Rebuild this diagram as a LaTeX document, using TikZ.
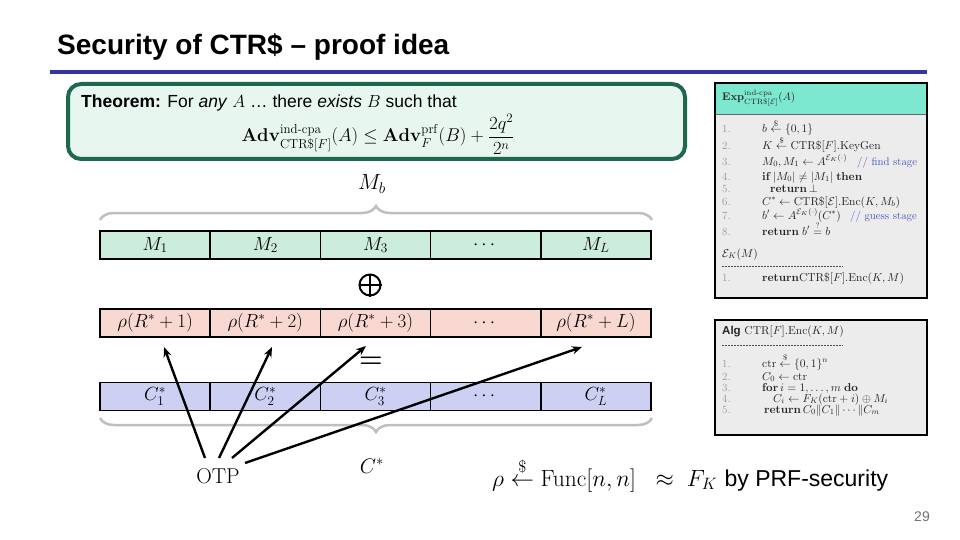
\RequirePackage{fix-cm}
\documentclass[tikz,border=0pt]{standalone}
\usepackage{amsmath,amssymb}
\usepackage[no-math]{fontspec}
\newfontfamily\arial{Liberation Sans}
\usetikzlibrary{arrows.meta,decorations.pathreplacing}
\newcommand\fs[1]{\fontsize{#1}{#1}\selectfont}
\definecolor{titleblue}{RGB}{53,53,160}
\definecolor{thmborder}{RGB}{31,104,80}
\definecolor{thmfill}{RGB}{232,246,240}
\definecolor{tealhead}{RGB}{125,232,208}
\definecolor{boxgray}{RGB}{236,236,236}
\definecolor{mfill}{RGB}{204,236,220}
\definecolor{rfill}{RGB}{250,216,210}
\definecolor{cfill}{RGB}{205,208,242}
\definecolor{bracegray}{RGB}{191,191,191}
\definecolor{numgray}{RGB}{150,150,150}
\definecolor{cmtblue}{RGB}{60,80,190}
\tikzset{
  cell/.style={draw, line width=1.6pt, minimum width=110.2pt, minimum height=28pt, font=\fs{19}},
  codeno/.style={anchor=base west, font=\fs{11}, text=numgray},
  code/.style={anchor=base west, font=\fs{11.5}, text=black!85},
  algcode/.style={anchor=base west, font=\fs{11.5}, text=black!85},
  cmt/.style={anchor=base west, font=\fs{11}, text=cmtblue},
  arr/.style={-{Stealth[length=10pt,width=8pt]}, line width=2.4pt},
  gbrace/.style={decorate, decoration={brace, amplitude=14pt}, draw=bracegray, line width=2.5pt}
}
\begin{document}
\begin{tikzpicture}[x=1pt,y=-1pt, every node/.style={inner sep=0pt}]
\useasboundingbox (0,0) rectangle (960,540);
% title
\node[anchor=base west, font=\arial\bfseries\fs{28}] (title) at (57,55) {Security of CTR\$ \textendash{} proof idea};
\draw[titleblue, line width=4pt] (50,72) -- (927,72);
% theorem box
\draw[thmborder, fill=thmfill, line width=4pt, rounded corners=13pt] (68,84) rectangle (685,159);
\node[anchor=base west, font=\arial\fs{17.5}] (thm) at (81,108) {\textbf{Theorem:} For \textit{any} $A$ \dots\ there \textit{exists} $B$ such that};
\node[anchor=base, font=\fs{18.5}] (thmf) at (378,142) {$\mathbf{Adv}^{\mathrm{ind\text{-}cpa}}_{\mathrm{CTR\$}[F]}(A) \le \mathbf{Adv}^{\mathrm{prf}}_{F}(B) + \dfrac{2q^2}{2^n}$};
% Exp box
\fill[boxgray] (715,83) rectangle (927,298);
\fill[tealhead] (715,83) rectangle (927,114);
\draw[line width=0.6pt, black!60] (715,114) -- (927,114);
\draw[line width=1.6pt] (715,83) rectangle (927,298);
\node[code, font=\fs{11}] (exph) at (722,101) {$\mathbf{Exp}^{\mathrm{ind\text{-}cpa}}_{\mathrm{CTR\$}[\mathcal{E}]}(A)$};
\node[codeno] (e1n) at (722,133) {1.};
\node[code] (e1) at (762,133) {$b \overset{\$}{\leftarrow} \{0,1\}$};
\node[codeno] (e2n) at (722,150) {2.};
\node[code] (e2) at (762,150) {$K \overset{\$}{\leftarrow} \mathrm{CTR\$}[F].\mathrm{KeyGen}$};
\node[codeno] (e3n) at (722,165) {3.};
\node[code] (e3) at (762,165) {$M_0, M_1 \leftarrow A^{\mathcal{E}_K(\cdot)}$};
\node[cmt] (e3c) at (857,165) {// find stage};
\node[codeno] (e4n) at (722,180) {4.};
\node[code] (e4) at (762,180) {$\mathbf{if}\,|M_0| \neq |M_1|\;\mathbf{then}$};
\node[codeno] (e5n) at (722,192) {5.};
\node[code] (e5) at (770,192) {$\mathbf{return}\,\bot$};
\node[codeno] (e6n) at (722,205) {6.};
\node[code] (e6) at (762,205) {$C^* \leftarrow \mathrm{CTR\$}[\mathcal{E}].\mathrm{Enc}(K, M_b)$};
\node[codeno] (e7n) at (722,219) {7.};
\node[code] (e7) at (762,219) {$b' \leftarrow A^{\mathcal{E}_K(\cdot)}(C^*)$};
\node[cmt] (e7c) at (850,219) {// guess stage};
\node[codeno] (e8n) at (722,235) {8.};
\node[code] (e8) at (762,235) {$\mathbf{return}\;b' \overset{?}{=} b$};
\node[code] (eek) at (722,257) {$\mathcal{E}_K(M)$};
\draw[dash pattern=on 2pt off 1pt, line width=0.5pt, black!70] (722,266) -- (843,266);
\node[codeno] (e9n) at (722,281) {1.};
\node[code] (e9) at (762,281) {$\mathbf{return}\mathrm{CTR\$}[F].\mathrm{Enc}(K,M)$};
% Alg box
\fill[boxgray] (715,320) rectangle (927,435);
\draw[line width=1.6pt] (715,320) rectangle (927,435);
\node[algcode] (ah) at (722,334) {{\arial\bfseries Alg} $\mathrm{CTR}[F].\mathrm{Enc}(K,M)$};
\draw[dash pattern=on 2pt off 1pt, line width=0.5pt, black!70] (722,345) -- (843,345);
\node[codeno] (a1n) at (722,367) {1.};
\node[algcode] (a1) at (762,367) {$\mathrm{ctr} \overset{\$}{\leftarrow} \{0,1\}^n$};
\node[codeno] (a2n) at (722,380) {2.};
\node[algcode] (a2) at (762,380) {$C_0 \leftarrow \mathrm{ctr}$};
\node[codeno] (a3n) at (722,391) {3.};
\node[algcode] (a3) at (762,391) {$\mathbf{for}\,i = 1, \dots, m\;\mathbf{do}$};
\node[codeno] (a4n) at (722,402) {4.};
\node[algcode] (a4) at (773,402) {$C_i \leftarrow F_K(\mathrm{ctr}+i) \oplus M_i$};
\node[codeno] (a5n) at (722,413) {5.};
\node[algcode] (a5) at (764,413) {$\mathbf{return}\,C_0 \| C_1 \| \cdots \| C_m$};
% top brace and Mb
\draw[gbrace] (100,220) -- (652,220);
\node[font=\fs{22}] (mb) at (372,184) {$M_b$};
% M row
\node[cell, fill=mfill] (m1) at (155.1,245) {$M_1$};
\node[cell, fill=mfill] (m2) at (265.3,245) {$M_2$};
\node[cell, fill=mfill] (m3) at (375.5,245) {$M_3$};
\node[cell, fill=mfill] (m4) at (485.7,245) {$\cdots$};
\node[cell, fill=mfill] (m5) at (595.9,245) {$M_L$};
% xor
\node[circle, draw, line width=2pt, minimum size=21pt] (xor) at (370,285) {};
\draw[line width=2pt] (xor.north) -- (xor.south) (xor.west) -- (xor.east);
% rho row
\node[cell, fill=rfill] (r1) at (155.1,323) {$\rho(R^*+1)$};
\node[cell, fill=rfill] (r2) at (265.3,323) {$\rho(R^*+2)$};
\node[cell, fill=rfill] (r3) at (375.5,323) {$\rho(R^*+3)$};
\node[cell, fill=rfill] (r4) at (485.7,323) {$\cdots$};
\node[cell, fill=rfill] (r5) at (595.9,323) {$\rho(R^*+L)$};
% equals
\node[font=\fs{27}] (eq) at (371,362) {$\boldsymbol{=}$};
% C row
\node[cell, fill=cfill] (c1) at (155.1,396.5) {$C_1^*$};
\node[cell, fill=cfill] (c2) at (265.3,396.5) {$C_2^*$};
\node[cell, fill=cfill] (c3) at (375.5,396.5) {$C_3^*$};
\node[cell, fill=cfill] (c4) at (485.7,396.5) {$\cdots$};
\node[cell, fill=cfill] (c5) at (595.9,396.5) {$C_L^*$};
% bottom brace
\draw[gbrace] (652,418) -- (100,418);
\node[font=\fs{21}] (cs) at (372,466) {$C^*$};
% OTP and arrows
\node[anchor=base, font=\fs{21.5}] (otp) at (218,483) {OTP};
\coordinate (s1) at (205,458);
\coordinate (s2) at (219,458);
\coordinate (s3) at (232,458);
\coordinate (s4) at (245,463);
\coordinate (t1) at (164,347);
\coordinate (t2) at (272,347);
\coordinate (t3) at (366,346);
\coordinate (t4) at (582,347);
\draw[arr] (s1) -- (t1);
\draw[arr] (s2) -- (t2);
\draw[arr] (s3) -- (t3);
\draw[arr] (s4) -- (t4);
% bottom formula
\node[anchor=base west, font=\fs{23.5}] (prf) at (492,486) {$\rho \overset{\$}{\leftarrow} \mathrm{Func}[n,n] \;\;\approx\; F_K$\hspace{1pt}{\arial\fs{23} by PRF-security}};
% page number
\node[font=\arial\fs{14}, text=black!55] (pg) at (922,517) {29};
\end{tikzpicture}
\end{document}
